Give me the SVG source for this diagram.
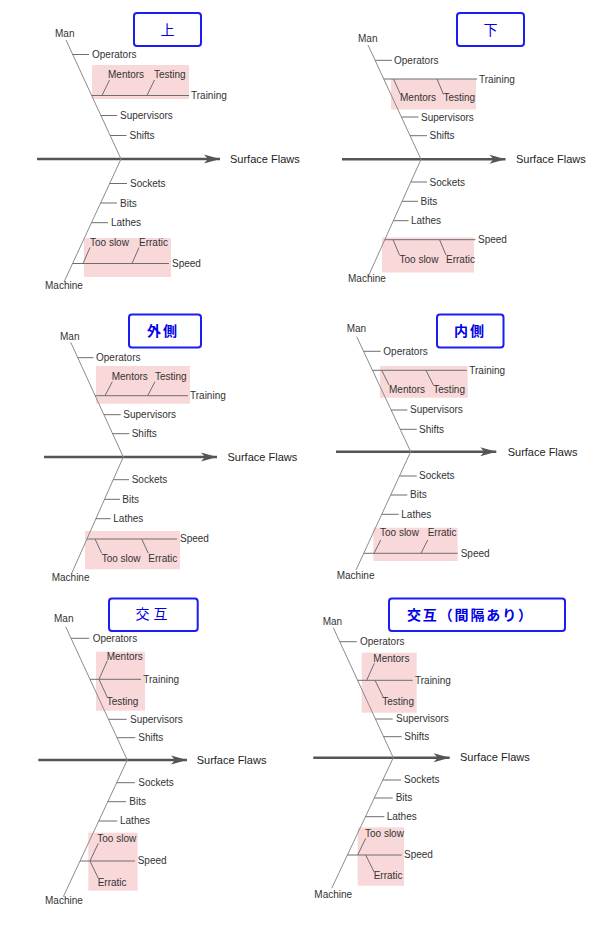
<svg xmlns="http://www.w3.org/2000/svg" width="599" height="935" viewBox="0 0 599 935">
<style>
.bg{fill:#ffffff}
.bone{stroke:#8c8c8c;stroke-width:1;fill:none}
.tick{stroke:#6e6e6e;stroke-width:1;fill:none}
.spine{stroke:#555555;stroke-width:2.5;fill:none;marker-end:url(#arr)}
.hl{fill:#f8d8d9}
.lbl{font-family:"Liberation Sans",Arial,sans-serif;font-size:10px;fill:#333333}
.eff{font-family:"Liberation Sans",Arial,sans-serif;font-size:11px;fill:#222222}
.tbox{fill:#ffffff;stroke:#1c1cf5;stroke-width:2}
.ttl{font-family:"Noto Sans CJK JP","Noto Sans CJK SC",sans-serif;font-size:14px;fill:#0000e6;text-anchor:middle}
.b{font-weight:bold}
</style>
<defs>
<marker id="arr" markerUnits="userSpaceOnUse" markerWidth="17" markerHeight="10" refX="8" refY="4.5" orient="auto" overflow="visible">
<path d="M-8,0 L8,4.5 L-8,9 L-4,4.5 Z" fill="#555555"/>
</marker>
</defs>
<rect class="bg" x="0" y="0" width="599" height="935"/>

<!-- Panel 1 : 上 -->
<g id="p1">
<g id="p1-title"><rect class="tbox" x="134" y="13" width="67" height="33" rx="3"/><text class="ttl" x="167.5" y="34.5">上</text></g>
<g id="p1-highlights"><rect class="hl" x="92" y="65" width="97" height="34"/><rect class="hl" x="84" y="238" width="87" height="39"/></g>
<g id="p1-connectors">
<line class="spine" x1="37" y1="159" x2="220" y2="159"/>
<line class="bone" x1="66" y1="40" x2="121" y2="159"/>
<line class="bone" x1="121" y1="159" x2="64" y2="282"/>
<line class="tick" x1="72.5" y1="54.5" x2="89" y2="54.5"/>
<line class="tick" x1="91.6" y1="95.5" x2="189" y2="95.5"/>
<line class="tick" x1="102" y1="95.5" x2="109.5" y2="80"/>
<line class="tick" x1="147" y1="95.5" x2="154.5" y2="80"/>
<line class="tick" x1="100.8" y1="115.5" x2="117" y2="115.5"/>
<line class="tick" x1="110" y1="135.5" x2="126.5" y2="135.5"/>
<line class="tick" x1="109.6" y1="183.5" x2="127" y2="183.5"/>
<line class="tick" x1="100.6" y1="203" x2="117" y2="203"/>
<line class="tick" x1="91.5" y1="222.7" x2="108" y2="222.7"/>
<line class="tick" x1="72.6" y1="263.5" x2="169" y2="263.5"/>
<line class="tick" x1="83" y1="263.5" x2="90" y2="247.5"/>
<line class="tick" x1="132" y1="263.5" x2="139" y2="247.5"/>
</g>
<g id="p1-effect"><text class="eff" x="230" y="163">Surface Flaws</text></g>
<g id="p1-man"><text class="lbl" x="55" y="37">Man</text></g>
<g id="p1-operators"><text class="lbl" x="92" y="58">Operators</text></g>
<g id="p1-training"><text class="lbl" x="191" y="99">Training</text></g>
<g id="p1-mentors"><text class="lbl" x="108" y="78">Mentors</text></g>
<g id="p1-testing"><text class="lbl" x="154" y="78">Testing</text></g>
<g id="p1-supervisors"><text class="lbl" x="120" y="119">Supervisors</text></g>
<g id="p1-shifts"><text class="lbl" x="129.5" y="139">Shifts</text></g>
<g id="p1-sockets"><text class="lbl" x="130" y="187">Sockets</text></g>
<g id="p1-bits"><text class="lbl" x="120" y="206.5">Bits</text></g>
<g id="p1-lathes"><text class="lbl" x="111" y="226">Lathes</text></g>
<g id="p1-speed"><text class="lbl" x="172" y="267">Speed</text></g>
<g id="p1-tooslow"><text class="lbl" x="90" y="246">Too slow</text></g>
<g id="p1-erratic"><text class="lbl" x="139" y="246">Erratic</text></g>
<g id="p1-machine"><text class="lbl" x="45" y="289">Machine</text></g>
</g>

<!-- Panel 2 : 下 -->
<g id="p2">
<g id="p2-title"><rect class="tbox" x="457" y="13" width="67" height="33" rx="3"/><text class="ttl" x="490.5" y="34.5">下</text></g>
<g id="p2-highlights"><rect class="hl" x="391" y="79" width="85" height="30.5"/><rect class="hl" x="382" y="237.5" width="92" height="35"/></g>
<g id="p2-connectors">
<line class="spine" x1="342" y1="159.3" x2="505.5" y2="159.3"/>
<line class="bone" x1="368" y1="45" x2="421" y2="159.3"/>
<line class="bone" x1="421" y1="159.3" x2="368" y2="277"/>
<line class="tick" x1="375.1" y1="60.3" x2="392" y2="60.3"/>
<line class="tick" x1="383.8" y1="79" x2="477" y2="79"/>
<line class="tick" x1="393.5" y1="79" x2="400.5" y2="94.5"/>
<line class="tick" x1="437" y1="79" x2="443.5" y2="94.5"/>
<line class="tick" x1="401.4" y1="117" x2="418.5" y2="117"/>
<line class="tick" x1="410" y1="135.7" x2="427" y2="135.7"/>
<line class="tick" x1="410.8" y1="182" x2="427" y2="182"/>
<line class="tick" x1="402.1" y1="201.3" x2="418" y2="201.3"/>
<line class="tick" x1="393.4" y1="220.7" x2="408.5" y2="220.7"/>
<line class="tick" x1="384.8" y1="239.7" x2="475.5" y2="239.7"/>
<line class="tick" x1="393" y1="239.7" x2="399.5" y2="255"/>
<line class="tick" x1="439.5" y1="239.7" x2="446" y2="255"/>
</g>
<g id="p2-effect"><text class="eff" x="516" y="163">Surface Flaws</text></g>
<g id="p2-man"><text class="lbl" x="358" y="41.5">Man</text></g>
<g id="p2-operators"><text class="lbl" x="394" y="63.5">Operators</text></g>
<g id="p2-training"><text class="lbl" x="479" y="82.5">Training</text></g>
<g id="p2-mentors"><text class="lbl" x="400" y="101">Mentors</text></g>
<g id="p2-testing"><text class="lbl" x="443.5" y="101">Testing</text></g>
<g id="p2-supervisors"><text class="lbl" x="421" y="120.5">Supervisors</text></g>
<g id="p2-shifts"><text class="lbl" x="429.5" y="139">Shifts</text></g>
<g id="p2-sockets"><text class="lbl" x="429.5" y="185.5">Sockets</text></g>
<g id="p2-bits"><text class="lbl" x="420.5" y="205">Bits</text></g>
<g id="p2-lathes"><text class="lbl" x="411" y="224">Lathes</text></g>
<g id="p2-speed"><text class="lbl" x="478" y="243">Speed</text></g>
<g id="p2-tooslow"><text class="lbl" x="399.5" y="262.5">Too slow</text></g>
<g id="p2-erratic"><text class="lbl" x="446" y="262.5">Erratic</text></g>
<g id="p2-machine"><text class="lbl" x="348" y="282">Machine</text></g>
</g>

<!-- Panel 3 : 外側 -->
<g id="p3">
<g id="p3-title"><rect class="tbox" x="129" y="314.5" width="72" height="33" rx="3"/><text class="ttl b" x="163" y="335.5" letter-spacing="2">外側</text></g>
<g id="p3-highlights"><rect class="hl" x="96" y="366" width="94" height="37.7"/><rect class="hl" x="85" y="531" width="95" height="38.3"/></g>
<g id="p3-connectors">
<line class="spine" x1="44" y1="457" x2="217" y2="457"/>
<line class="bone" x1="70.7" y1="342.3" x2="123.3" y2="457"/>
<line class="bone" x1="123.3" y1="457" x2="71.7" y2="573.3"/>
<line class="tick" x1="77.8" y1="357.7" x2="93.5" y2="357.7"/>
<line class="tick" x1="95.2" y1="395.7" x2="188" y2="395.7"/>
<line class="tick" x1="105" y1="395.7" x2="112.3" y2="381.7"/>
<line class="tick" x1="147.7" y1="395.7" x2="155" y2="381.7"/>
<line class="tick" x1="103.9" y1="414.7" x2="120.7" y2="414.7"/>
<line class="tick" x1="112.6" y1="433.7" x2="129.3" y2="433.7"/>
<line class="tick" x1="113.2" y1="479.7" x2="129" y2="479.7"/>
<line class="tick" x1="104.5" y1="499.3" x2="120" y2="499.3"/>
<line class="tick" x1="95.9" y1="518.7" x2="110.7" y2="518.7"/>
<line class="tick" x1="86.9" y1="539" x2="177" y2="539"/>
<line class="tick" x1="95" y1="539" x2="101.7" y2="553.3"/>
<line class="tick" x1="141.7" y1="539" x2="148.3" y2="553.3"/>
</g>
<g id="p3-effect"><text class="eff" x="227.5" y="460.5">Surface Flaws</text></g>
<g id="p3-man"><text class="lbl" x="60" y="339.5">Man</text></g>
<g id="p3-operators"><text class="lbl" x="96" y="361">Operators</text></g>
<g id="p3-training"><text class="lbl" x="190" y="399">Training</text></g>
<g id="p3-mentors"><text class="lbl" x="111.7" y="379.7">Mentors</text></g>
<g id="p3-testing"><text class="lbl" x="155" y="379.7">Testing</text></g>
<g id="p3-supervisors"><text class="lbl" x="123.3" y="418">Supervisors</text></g>
<g id="p3-shifts"><text class="lbl" x="131.7" y="437">Shifts</text></g>
<g id="p3-sockets"><text class="lbl" x="131.7" y="483">Sockets</text></g>
<g id="p3-bits"><text class="lbl" x="122.3" y="502.7">Bits</text></g>
<g id="p3-lathes"><text class="lbl" x="113.3" y="522">Lathes</text></g>
<g id="p3-speed"><text class="lbl" x="180" y="542">Speed</text></g>
<g id="p3-tooslow"><text class="lbl" x="101.7" y="562">Too slow</text></g>
<g id="p3-erratic"><text class="lbl" x="148.3" y="562">Erratic</text></g>
<g id="p3-machine"><text class="lbl" x="51.7" y="581">Machine</text></g>
</g>

<!-- Panel 4 : 内側 -->
<g id="p4">
<g id="p4-title"><rect class="tbox" x="437" y="314.5" width="66.5" height="33" rx="3"/><text class="ttl b" x="470" y="335.5" letter-spacing="2">内側</text></g>
<g id="p4-highlights"><rect class="hl" x="380" y="366" width="87.7" height="31.7"/><rect class="hl" x="373.3" y="527.7" width="84.4" height="33.3"/></g>
<g id="p4-connectors">
<line class="spine" x1="336" y1="451.7" x2="496.3" y2="451.7"/>
<line class="bone" x1="356.7" y1="336.7" x2="410.7" y2="451.7"/>
<line class="bone" x1="410.7" y1="451.7" x2="356" y2="570"/>
<line class="tick" x1="363.6" y1="351.3" x2="380.7" y2="351.3"/>
<line class="tick" x1="372.5" y1="370.3" x2="466.7" y2="370.3"/>
<line class="tick" x1="381.7" y1="370.3" x2="389" y2="385"/>
<line class="tick" x1="426" y1="370.3" x2="433.3" y2="385"/>
<line class="tick" x1="391.1" y1="410" x2="407.3" y2="410"/>
<line class="tick" x1="400.2" y1="429.3" x2="416.7" y2="429.3"/>
<line class="tick" x1="399.5" y1="476" x2="416.7" y2="476"/>
<line class="tick" x1="390.7" y1="495" x2="407.3" y2="495"/>
<line class="tick" x1="381.8" y1="514.3" x2="398.7" y2="514.3"/>
<line class="tick" x1="363.7" y1="553.3" x2="457.7" y2="553.3"/>
<line class="tick" x1="374" y1="553.3" x2="380.7" y2="540"/>
<line class="tick" x1="421" y1="553.3" x2="427.7" y2="540"/>
</g>
<g id="p4-effect"><text class="eff" x="507.7" y="455.5">Surface Flaws</text></g>
<g id="p4-man"><text class="lbl" x="346.7" y="332.3">Man</text></g>
<g id="p4-operators"><text class="lbl" x="383.3" y="354.5">Operators</text></g>
<g id="p4-training"><text class="lbl" x="469.3" y="373.5">Training</text></g>
<g id="p4-mentors"><text class="lbl" x="389" y="393.3">Mentors</text></g>
<g id="p4-testing"><text class="lbl" x="433.3" y="393.3">Testing</text></g>
<g id="p4-supervisors"><text class="lbl" x="410" y="413">Supervisors</text></g>
<g id="p4-shifts"><text class="lbl" x="419" y="432.5">Shifts</text></g>
<g id="p4-sockets"><text class="lbl" x="419" y="479.3">Sockets</text></g>
<g id="p4-bits"><text class="lbl" x="410" y="498.3">Bits</text></g>
<g id="p4-lathes"><text class="lbl" x="401.3" y="517.7">Lathes</text></g>
<g id="p4-speed"><text class="lbl" x="460.7" y="556.5">Speed</text></g>
<g id="p4-tooslow"><text class="lbl" x="380" y="536">Too slow</text></g>
<g id="p4-erratic"><text class="lbl" x="427.7" y="536">Erratic</text></g>
<g id="p4-machine"><text class="lbl" x="336.7" y="578.5">Machine</text></g>
</g>

<!-- Panel 5 : 交互 -->
<g id="p5">
<g id="p5-title"><rect class="tbox" x="109" y="598.5" width="88.7" height="32.5" rx="3"/><text class="ttl" x="153.5" y="619" letter-spacing="4">交互</text></g>
<g id="p5-highlights"><rect class="hl" x="96" y="651.7" width="49" height="59"/><rect class="hl" x="88.3" y="832.7" width="49.4" height="58"/></g>
<g id="p5-connectors">
<line class="spine" x1="38.3" y1="760" x2="187" y2="760"/>
<line class="bone" x1="65.7" y1="626.7" x2="127.3" y2="760"/>
<line class="bone" x1="127.3" y1="760" x2="63.3" y2="896.7"/>
<line class="tick" x1="71.1" y1="638.3" x2="89.3" y2="638.3"/>
<line class="tick" x1="90" y1="679.3" x2="141" y2="679.3"/>
<line class="tick" x1="99" y1="679.3" x2="107.3" y2="660.7"/>
<line class="tick" x1="99" y1="679.3" x2="107.3" y2="697.3"/>
<line class="tick" x1="108.5" y1="719.3" x2="126.7" y2="719.3"/>
<line class="tick" x1="117" y1="737.7" x2="135.3" y2="737.7"/>
<line class="tick" x1="116.7" y1="782.7" x2="135" y2="782.7"/>
<line class="tick" x1="107.8" y1="801.7" x2="126" y2="801.7"/>
<line class="tick" x1="98.8" y1="821" x2="117.3" y2="821"/>
<line class="tick" x1="80" y1="861" x2="135" y2="861"/>
<line class="tick" x1="90" y1="861" x2="98.3" y2="843.3"/>
<line class="tick" x1="90" y1="861" x2="98.3" y2="878.3"/>
</g>
<g id="p5-effect"><text class="eff" x="196.7" y="763.5">Surface Flaws</text></g>
<g id="p5-man"><text class="lbl" x="54" y="621.7">Man</text></g>
<g id="p5-operators"><text class="lbl" x="92.7" y="641.7">Operators</text></g>
<g id="p5-training"><text class="lbl" x="143.3" y="682.5">Training</text></g>
<g id="p5-mentors"><text class="lbl" x="106.7" y="660.3">Mentors</text></g>
<g id="p5-testing"><text class="lbl" x="106.7" y="705">Testing</text></g>
<g id="p5-supervisors"><text class="lbl" x="130" y="722.5">Supervisors</text></g>
<g id="p5-shifts"><text class="lbl" x="138.3" y="741">Shifts</text></g>
<g id="p5-sockets"><text class="lbl" x="138.3" y="786">Sockets</text></g>
<g id="p5-bits"><text class="lbl" x="129.3" y="805">Bits</text></g>
<g id="p5-lathes"><text class="lbl" x="120" y="824.3">Lathes</text></g>
<g id="p5-speed"><text class="lbl" x="137.7" y="864">Speed</text></g>
<g id="p5-tooslow"><text class="lbl" x="97.3" y="842.3">Too slow</text></g>
<g id="p5-erratic"><text class="lbl" x="97.7" y="885.7">Erratic</text></g>
<g id="p5-machine"><text class="lbl" x="45" y="904.3">Machine</text></g>
</g>

<!-- Panel 6 : 交互（間隔あり） -->
<g id="p6">
<g id="p6-title"><rect class="tbox" x="389" y="598.5" width="176" height="32.5" rx="3"/><text class="ttl b" x="407" y="620" text-anchor="start" style="text-anchor:start" textLength="125" lengthAdjust="spacing">交互（間隔あり）</text></g>
<g id="p6-highlights"><rect class="hl" x="361.7" y="652.7" width="55" height="60"/><rect class="hl" x="357.7" y="827.3" width="46.3" height="58.4"/></g>
<g id="p6-connectors">
<line class="spine" x1="313.3" y1="757.7" x2="449.7" y2="757.7"/>
<line class="bone" x1="333.3" y1="627.7" x2="393.3" y2="757.7"/>
<line class="bone" x1="393.3" y1="757.7" x2="331.7" y2="888.3"/>
<line class="tick" x1="339.8" y1="641.7" x2="356.7" y2="641.7"/>
<line class="tick" x1="357.6" y1="680.3" x2="412.7" y2="680.3"/>
<line class="tick" x1="366.7" y1="680.3" x2="374.3" y2="663.3"/>
<line class="tick" x1="375" y1="680.3" x2="383.3" y2="697.3"/>
<line class="tick" x1="375.4" y1="719" x2="392.7" y2="719"/>
<line class="tick" x1="383.6" y1="736.7" x2="401.7" y2="736.7"/>
<line class="tick" x1="382.8" y1="780" x2="401" y2="780"/>
<line class="tick" x1="374.3" y1="798" x2="392.7" y2="798"/>
<line class="tick" x1="365.5" y1="816.7" x2="384.3" y2="816.7"/>
<line class="tick" x1="347.4" y1="855" x2="401.7" y2="855"/>
<line class="tick" x1="357.7" y1="855" x2="365.7" y2="838.3"/>
<line class="tick" x1="365.7" y1="855" x2="374.3" y2="872.3"/>
</g>
<g id="p6-effect"><text class="eff" x="460" y="761">Surface Flaws</text></g>
<g id="p6-man"><text class="lbl" x="322.7" y="625">Man</text></g>
<g id="p6-operators"><text class="lbl" x="360" y="644.5">Operators</text></g>
<g id="p6-training"><text class="lbl" x="415" y="683.5">Training</text></g>
<g id="p6-mentors"><text class="lbl" x="373.3" y="662.3">Mentors</text></g>
<g id="p6-testing"><text class="lbl" x="382.3" y="705">Testing</text></g>
<g id="p6-supervisors"><text class="lbl" x="396" y="722">Supervisors</text></g>
<g id="p6-shifts"><text class="lbl" x="404.3" y="740">Shifts</text></g>
<g id="p6-sockets"><text class="lbl" x="404" y="783">Sockets</text></g>
<g id="p6-bits"><text class="lbl" x="395.7" y="801">Bits</text></g>
<g id="p6-lathes"><text class="lbl" x="386.7" y="820">Lathes</text></g>
<g id="p6-speed"><text class="lbl" x="404" y="858">Speed</text></g>
<g id="p6-tooslow"><text class="lbl" x="365" y="837.3">Too slow</text></g>
<g id="p6-erratic"><text class="lbl" x="373.7" y="879.3">Erratic</text></g>
<g id="p6-machine"><text class="lbl" x="314.3" y="897.7">Machine</text></g>
</g>
</svg>
